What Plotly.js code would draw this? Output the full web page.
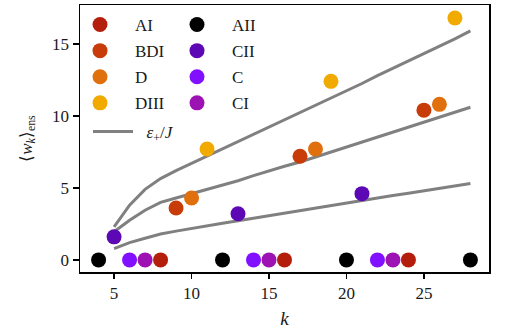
<!DOCTYPE html>
<html>
<head>
<meta charset="utf-8">
<script src="https://cdn.plot.ly/plotly-3.0.1.min.js"></script>
<style>
  html, body { margin: 0; padding: 0; background: #fff; }
  #chart { width: 508px; height: 331px; }
</style>
</head>
<body>
<div id="chart"></div>
<script>
// Ensemble-averaged winding <w_k> per symmetry class, versus k
const kAI   = [8, 16, 24];        const wAI   = [0, 0, 0];
const kBDI  = [9, 17, 25];        const wBDI  = [3.6, 7.2, 10.4];
const kD    = [10, 18, 26];       const wD    = [4.3, 7.7, 10.8];
const kDIII = [11, 19, 27];       const wDIII = [7.7, 12.4, 16.8];
const kAII  = [4, 12, 20, 28];    const wAII  = [0, 0, 0, 0];
const kCII  = [5, 13, 21];        const wCII  = [1.6, 3.2, 4.6];
const kC    = [6, 14, 22];        const wC    = [0, 0, 0];
const kCI   = [7, 15, 23];        const wCI   = [0, 0, 0];

// eps_+/J curves
const kEps = [5, 6, 7, 8, 9, 10, 11, 12, 13, 14, 15, 16, 17, 18, 19, 20, 21, 22, 23, 24, 25, 26, 27, 28];
const epsUpper = [2.3, 3.8, 4.9, 5.65, 6.2, 6.7, 7.2, 7.7, 8.2, 8.7, 9.2, 9.7, 10.2, 10.7, 11.2, 11.75, 12.25, 12.8, 13.3, 13.8, 14.35, 14.85, 15.35, 15.9];
const epsMiddle = [1.95, 2.75, 3.45, 4.0, 4.3, 4.6, 4.85, 5.2, 5.5, 5.85, 6.2, 6.5, 6.8, 7.15, 7.5, 7.85, 8.15, 8.5, 8.85, 9.2, 9.55, 9.9, 10.25, 10.6];
const epsLower = [0.78, 1.2, 1.5, 1.8, 2.0, 2.2, 2.35, 2.55, 2.72, 2.9, 3.07, 3.25, 3.42, 3.6, 3.77, 3.95, 4.12, 4.3, 4.47, 4.63, 4.8, 4.97, 5.13, 5.3];

const xTicks = [5, 10, 15, 20, 25];
const yTicks = [0, 5, 10, 15];

const FONT = '"Liberation Serif", serif';
const GRAY = '#808080';
const INK = '#1a1a1a';

const traces = [];

function epsLine(y, show) {
  return {
    x: kEps, y: y, type: 'scatter', mode: 'lines',
    line: {color: GRAY, width: 3},
    name: '\u2002<i>ε</i><sub>+</sub>/<i>J</i>',
    legend: 'legend3', showlegend: show, legendgroup: 'eps',
    hoverinfo: 'skip'
  };
}
traces.push(epsLine(epsUpper, true));
traces.push(epsLine(epsMiddle, false));
traces.push(epsLine(epsLower, false));

function classPts(name, k, w, color, legend) {
  return {
    x: k, y: w, type: 'scatter', mode: 'markers', name: name,
    marker: {color: color, size: 15, line: {width: 0}},
    legend: legend, legendgroup: name
  };
}
traces.push(classPts('AI',   kAI,   wAI,   '#b41e0c', 'legend'));
traces.push(classPts('BDI',  kBDI,  wBDI,  '#c83c0a', 'legend'));
traces.push(classPts('D',    kD,    wD,    '#e0700e', 'legend'));
traces.push(classPts('DIII', kDIII, wDIII, '#f0aa00', 'legend'));
traces.push(classPts('AII',  kAII,  wAII,  '#000000', 'legend2'));
traces.push(classPts('CII',  kCII,  wCII,  '#5c08b4', 'legend2'));
traces.push(classPts('C',    kC,    wC,    '#8010ff', 'legend2'));
traces.push(classPts('CI',   kCI,   wCI,   '#9c12b2', 'legend2'));

const W = 409, H = 267, L = 80, T = 5;
const px = v => (v - L) / W;
const py = v => 1 - (v - T) / H;

const legendBase = {
  bgcolor: 'rgba(0,0,0,0)', borderwidth: 0,
  font: {family: FONT, size: 17, color: INK},
  xanchor: 'left', yanchor: 'top', tracegroupgap: 1, traceorder: 'grouped'
};

const layout = {
  width: 508, height: 331,
  margin: {l: 80, r: 19, t: 5, b: 59},
  paper_bgcolor: '#fff', plot_bgcolor: '#fff',
  font: {family: FONT, size: 17, color: INK},
  showlegend: true,
  xaxis: {
    range: [2.8, 29.2], tickvals: xTicks, ticks: 'outside', ticklen: 5, tickwidth: 1.5,
    tickcolor: '#000', showline: true, linecolor: '#000', linewidth: 1.5, mirror: true,
    showgrid: false, zeroline: false,
    tickfont: {family: FONT, size: 17, color: INK},
    title: {text: '<i>k</i>', font: {family: FONT, size: 19, color: INK}, standoff: 10}
  },
  yaxis: {
    range: [-0.84, 17.7], tickvals: yTicks, ticks: 'outside', ticklen: 6, tickwidth: 1.5,
    tickcolor: '#000', showline: true, linecolor: '#000', linewidth: 1.5, mirror: true,
    showgrid: false, zeroline: false,
    tickfont: {family: FONT, size: 17, color: INK},
    title: {text: '⟨<i>w</i><sub><i>k</i></sub>⟩<sub>ens</sub>', font: {family: FONT, size: 17, color: INK}, standoff: 15}
  },
  legend: Object.assign({}, legendBase, {x: px(65), y: py(7), itemwidth: 60}),
  legend2: Object.assign({}, legendBase, {x: px(162), y: py(7), itemwidth: 60}),
  legend3: Object.assign({}, legendBase, {x: px(88), y: py(114), itemwidth: 40})
};

Plotly.newPlot('chart', traces, layout, {staticPlot: true, displayModeBar: false});
</script>
</body>
</html>
